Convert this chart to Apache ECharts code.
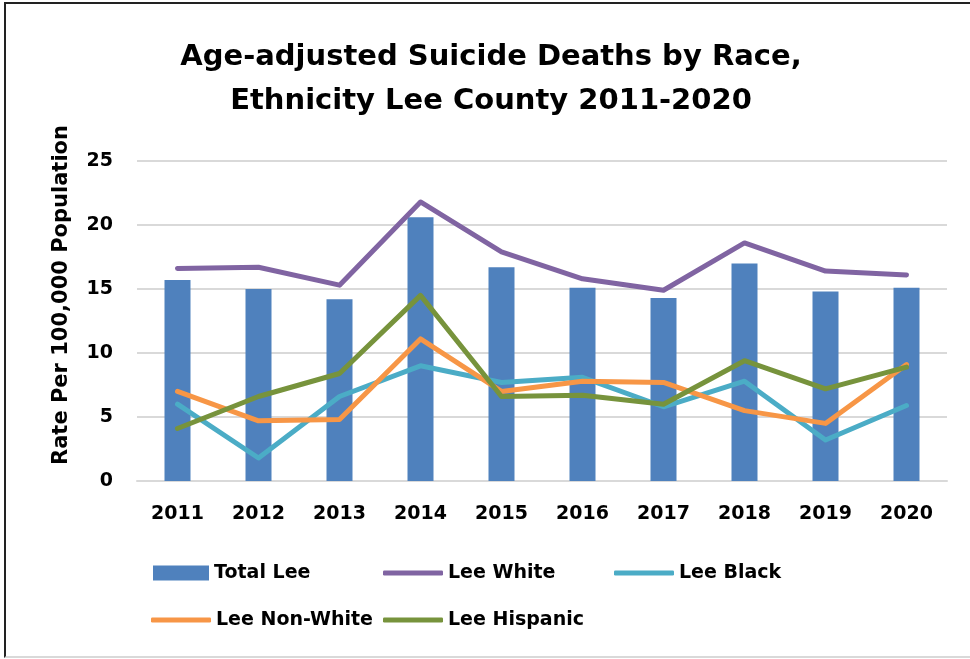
<!DOCTYPE html>
<html>
<head>
<meta charset="utf-8">
<script src="https://cdn.jsdelivr.net/npm/echarts@6/dist/echarts.min.js"></script>
<style>
    html, body { margin: 0; padding: 0; background: #fff; }
    #frame {
        position: absolute; left: 4px; top: 2px; width: 966px; height: 656px;
        border-left: 2px solid #222; border-top: 2px solid #222; border-bottom: 2px solid #d9d9d9;
        box-sizing: border-box;
    }
    #chart { position: absolute; left: 0; top: 0; width: 970px; height: 659px; }
</style>
</head>
<body>
<div id="frame"></div>
<div id="chart"></div>
<script>
const years = ["2011", "2012", "2013", "2014", "2015", "2016", "2017", "2018", "2019", "2020"]
const totalLee = [15.7, 15.0, 14.2, 20.6, 16.7, 15.1, 14.3, 17.0, 14.8, 15.1]
const leeWhite = [16.6, 16.7, 15.3, 21.8, 17.9, 15.8, 14.9, 18.6, 16.4, 16.1]
const leeBlack = [6.0, 1.8, 6.6, 9.0, 7.7, 8.1, 5.8, 7.8, 3.2, 5.9]
const leeNonWhite = [7.0, 4.7, 4.8, 11.1, 7.0, 7.8, 7.7, 5.5, 4.5, 9.1]
const leeHispanic = [4.1, 6.6, 8.4, 14.5, 6.6, 6.7, 6.0, 9.4, 7.2, 8.9]

const font = "'DejaVu Sans', sans-serif"
const textStyle = { fontFamily: font, fontWeight: "bold", fontSize: 19, color: "#000" }

var myChart = echarts.init(document.getElementById("chart"))

// one legend per item so the columns line up like the original
function legendAt(name, left, top, isBar) {
    return {
        data: [{ name: name, icon: isBar ? "rect" : "roundRect" }],
        left: left,
        top: top,
        padding: 0,
        itemWidth: isBar ? 56 : 60,
        itemHeight: isBar ? 15 : 5,
        textStyle: Object.assign({ lineHeight: 20 }, textStyle),
    }
}

function lineSeries(name, data, color) {
    return {
        name: name,
        type: "line",
        data: data,
        symbol: "none",
        color: color,
        lineStyle: { width: 5, color: color, cap: "round", join: "round" },
        z: 3,
    }
}

myChart.setOption({
    animation: false,
    title: {
        text: "Age-adjusted Suicide Deaths by Race,\nEthnicity Lee County 2011-2020",
        left: 491,
        textAlign: "center",
        top: 35,
        padding: 0,
        textStyle: { fontFamily: font, fontWeight: "bold", fontSize: 29, color: "#000", lineHeight: 44 },
    },
    legend: [
        legendAt("Total Lee", 153, 563, true),
        legendAt("Lee White", 383, 563),
        legendAt("Lee Black", 614, 563),
        legendAt("Lee Non-White", 151, 610),
        legendAt("Lee Hispanic", 383, 610),
    ],
    graphic: [
        {
            type: "text",
            x: 62,
            y: 295,
            rotation: Math.PI / 2,
            style: {
                text: "Rate Per 100,000 Population",
                fontFamily: font,
                fontWeight: "bold",
                fontSize: 21,
                fill: "#000",
                align: "center",
                verticalAlign: "middle",
            },
        },
    ],
    grid: {
        left: 137,
        right: 23,
        top: 161,
        bottom: 178,
    },
    xAxis: {
        type: "category",
        data: years,
        axisLine: { show: true, lineStyle: { color: "#d9d9d9", width: 2 } },
        axisTick: { show: false },
        axisLabel: Object.assign({ margin: 24 }, textStyle),
    },
    yAxis: {
        type: "value",
        min: 0,
        max: 25,
        interval: 5,
        axisLine: { show: false },
        axisTick: { show: false },
        axisLabel: Object.assign({ margin: 24 }, textStyle),
        splitLine: { lineStyle: { color: "#d9d9d9", width: 2 } },
    },
    series: [
        {
            name: "Total Lee",
            type: "bar",
            data: totalLee,
            barWidth: 26,
            itemStyle: { color: "#4f81bd" },
            z: 2,
        },
        lineSeries("Lee White", leeWhite, "#8064a2"),
        lineSeries("Lee Black", leeBlack, "#4bacc6"),
        lineSeries("Lee Non-White", leeNonWhite, "#f79646"),
        lineSeries("Lee Hispanic", leeHispanic, "#77933c"),
    ],
})
</script>
</body>
</html>
